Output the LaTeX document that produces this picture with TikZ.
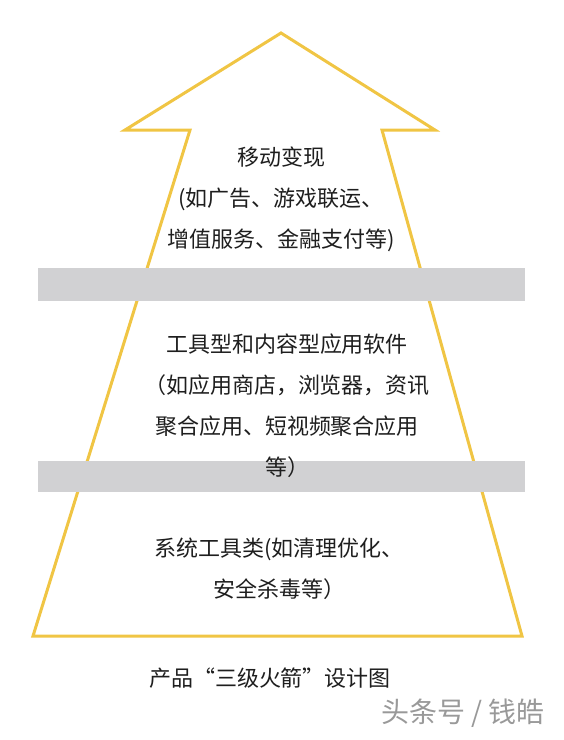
\documentclass[tikz,border=0pt]{standalone}
\usepackage{fontspec}
\setmainfont{Noto Sans CJK SC}
\usepackage{tikz}
\definecolor{rocketyellow}{HTML}{F0C544}
\definecolor{bargray}{HTML}{D1D1D3}
\definecolor{txtgray}{HTML}{1E1E1E}

\begin{document}
\begin{tikzpicture}[x=1pt,y=-1pt]
\tikzstyle{every node} = [align=center, text=txtgray, font=\fontsize{22}{41}\selectfont]
\tikzstyle{stage} = [inner sep=0pt]
\tikzstyle{bar} = [fill=bargray, draw=none]
\useasboundingbox (0,0) rectangle (564,740);

% rocket outline
\draw [rocketyellow, line width=3pt, line join=miter]
  (281,33) -- (435,130) -- (382,130) -- (522,636) -- (33,636) -- (190,130) -- (125,130) -- cycle;

% separators
\fill [bar] (38,268) rectangle (525,301);
\fill [bar] (38,461) rectangle (525,492);

\node[stage](top) at (281,199) {移动变现\\(如广告、游戏联运、\\增值服务、金融支付等)};
\node[stage](mid) at (287,406) {工具型和内容型应用软件\\（如应用商店，浏览器，资讯\\聚合应用、短视频聚合应用\\等）};
\node[stage](base) at (279,569) {系统工具类(如清理优化、\\安全杀毒等）};

\node(caption) at (270,678) {产品“三级火箭”设计图};
\node[text=black!40, font=\fontsize{28}{32}\selectfont](mark) at (463,713) {头条号 / 钱皓};

\end{tikzpicture}
\end{document}
